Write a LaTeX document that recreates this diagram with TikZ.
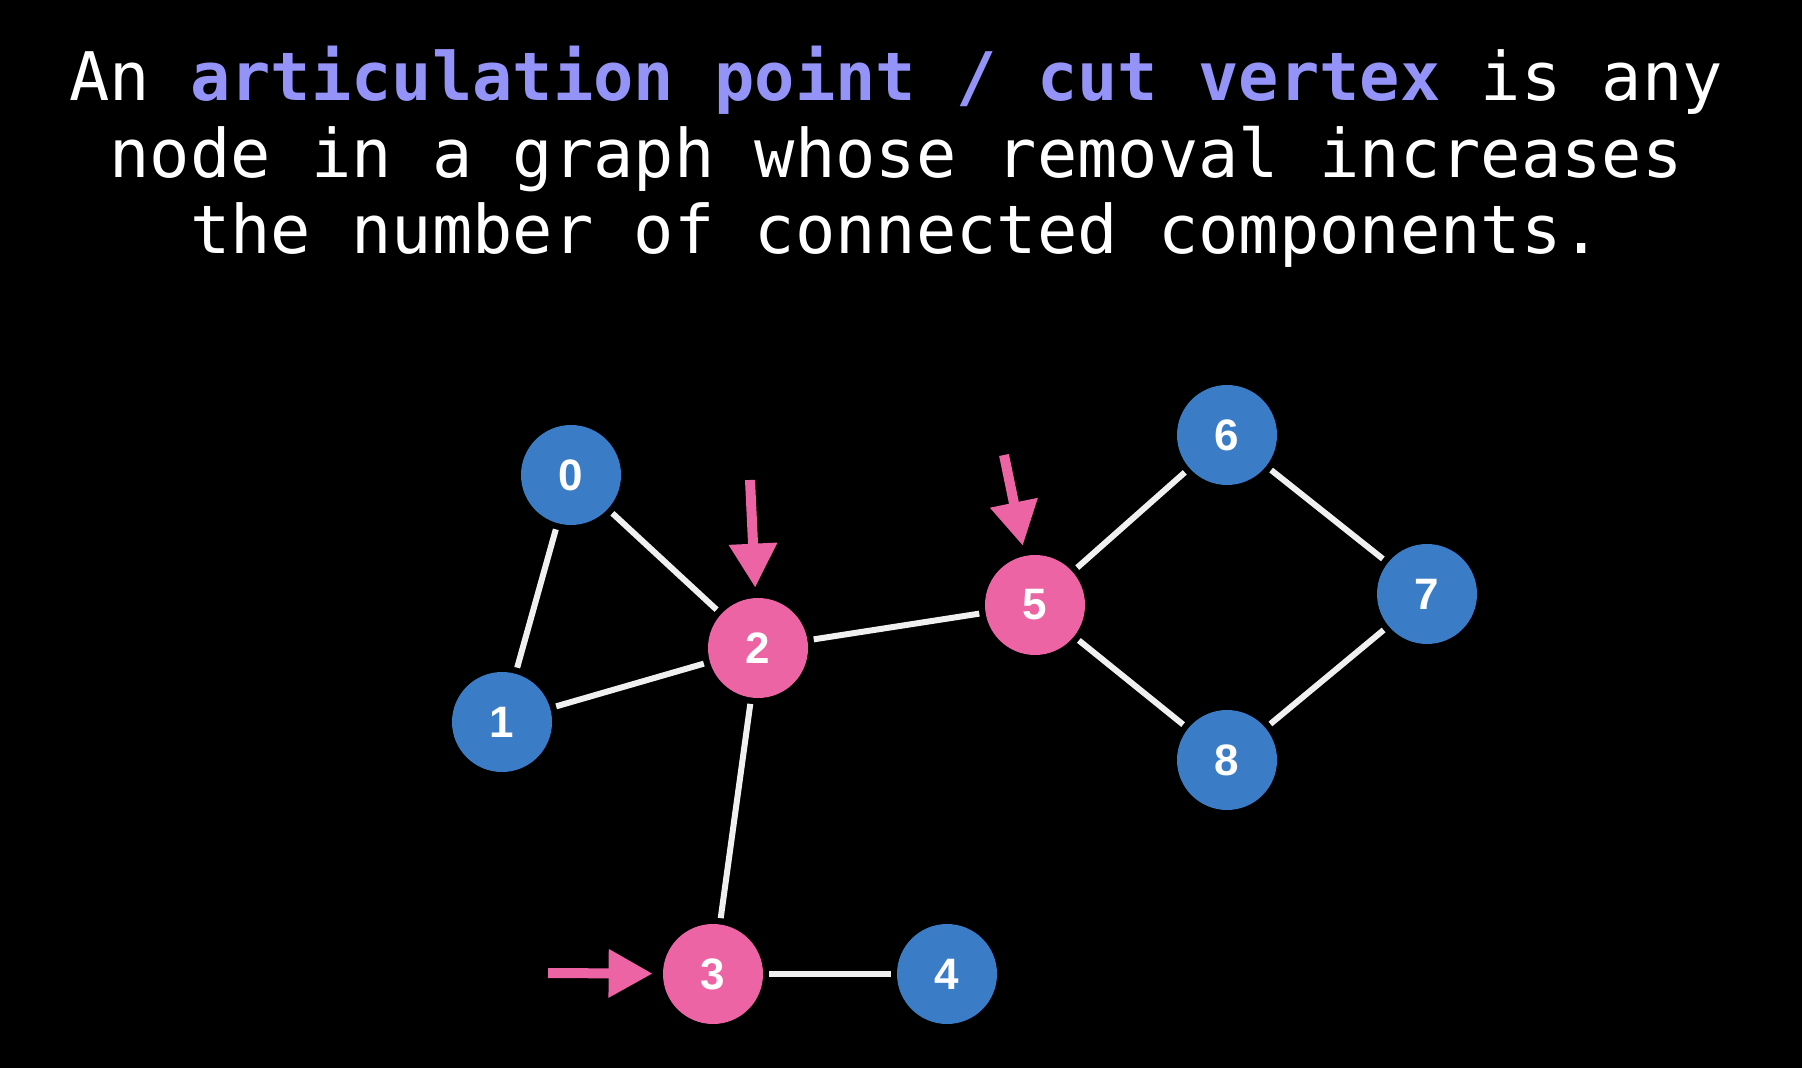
\documentclass[tikz,border=0pt]{standalone}
\usepackage{fontspec}
\usetikzlibrary{arrows.meta}
\newfontfamily\monofam{DejaVu Sans Mono}
\newfontfamily\labfam{Liberation Sans}
\definecolor{nodeblue}{HTML}{3A7DC6}
\definecolor{nodepink}{HTML}{EC64A4}
\definecolor{lav}{HTML}{9494F8}
\definecolor{edgecol}{HTML}{F0F0F0}
\tikzset{
  vtx/.style={circle, minimum size=50pt, inner sep=0pt, text=white,
    font=\labfam\bfseries\fontsize{22}{24}\selectfont},
  bluev/.style={vtx, fill=nodeblue},
  pinkv/.style={vtx, fill=nodepink},
  edge/.style={draw=edgecol, line width=3pt, shorten <=3pt, shorten >=3pt},
  pointer/.style={draw=nodepink, line width=5pt, shorten >=5pt,
    -{Triangle[length=22pt,width=23pt]}},
  title/.style={anchor=base, text=white, inner sep=0pt,
    font=\monofam\fontsize{33.5}{39}\selectfont}
}
\begin{document}
\begin{tikzpicture}[x=0.5pt,y=-0.5pt]
\fill[black] (0,0) rectangle (1802,1068);
\useasboundingbox (0,0) rectangle (1802,1068);
\node[title] (t1) at (896,101) {An \textcolor{lav}{\bfseries articulation point / cut vertex} is any};
\node[title] (t2) at (896,178) {node in a graph whose removal increases};
\node[title] (t3) at (896,254) {the number of connected components.};

\node[bluev] (n0) at (571,475) {0};
\node[bluev] (n1) at (502,722) {1};
\node[pinkv] (n2) at (758,648) {2};
\node[pinkv] (n3) at (713,974) {3};
\node[bluev] (n4) at (947,974) {4};
\node[pinkv] (n5) at (1035,605) {5};
\node[bluev] (n6) at (1227,435) {6};
\node[bluev] (n7) at (1427,594) {7};
\node[bluev] (n8) at (1227,760) {8};

\draw[edge] (n0) -- (n1);
\draw[edge] (n0) -- (n2);
\draw[edge] (n1) -- (n2);
\draw[edge] (n2) -- (n3);
\draw[edge] (n2) -- (n5);
\draw[edge] (n3) -- (n4);
\draw[edge] (n5) -- (n6);
\draw[edge] (n5) -- (n8);
\draw[edge] (n6) -- (n7);
\draw[edge] (n8) -- (n7);

\coordinate (a2) at (750,480);
\coordinate (a5) at (1004,455);
\coordinate (a3) at (548,973);
\draw[pointer] (a2) -- (n2);
\draw[pointer] (a5) -- (n5);
\draw[pointer] (a3) -- (n3);
\end{tikzpicture}
\end{document}
